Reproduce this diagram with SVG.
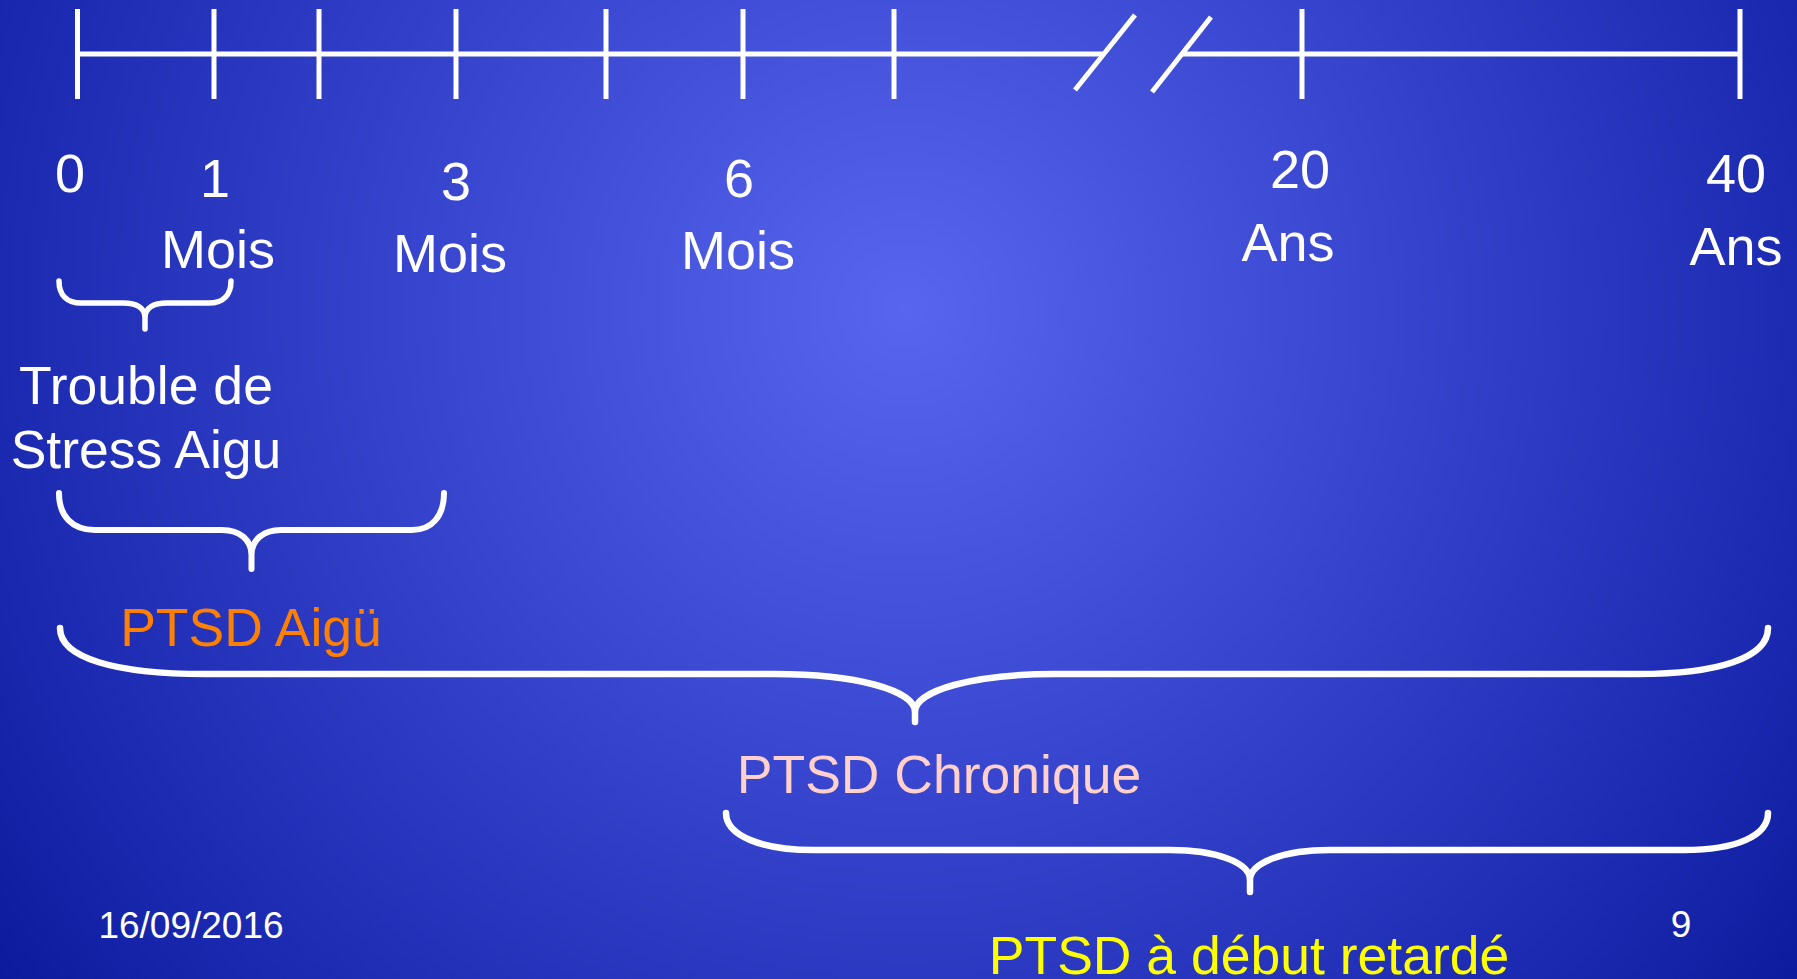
<svg xmlns="http://www.w3.org/2000/svg" width="1797" height="979" viewBox="0 0 1797 979">
  <defs>
    <radialGradient id="bg" gradientUnits="userSpaceOnUse" cx="905" cy="310" r="1125">
      <stop offset="0" stop-color="#5865ef"/>
      <stop offset="0.8" stop-color="#1c2ab2"/>
      <stop offset="1" stop-color="#0c1b9c"/>
    </radialGradient>
    <style>
      .ln { stroke: #ffffff; stroke-width: 5; fill: none; }
      .br { stroke: #ffffff; stroke-width: 6.5; fill: none; stroke-linejoin: round; stroke-linecap: round; }
      .t { font-family: "Liberation Sans", Arial, sans-serif; text-anchor: middle; fill: #ffffff; }
      .big { font-size: 54px; }
      .lbl { font-size: 53.5px; }
      .small { font-size: 37px; }
    </style>
  </defs>

  <!-- slide background -->
  <rect width="1797" height="979" fill="url(#bg)"/>

  <!-- time axis with ticks and break marks -->
  <g id="axis">
    <line class="ln" x1="77" y1="54" x2="1104" y2="54"/>
    <line class="ln" x1="1182" y1="54" x2="1741" y2="54"/>
    <line class="ln" x1="77.5" y1="9" x2="77.5" y2="99"/>
    <line class="ln" x1="214" y1="9" x2="214" y2="99"/>
    <line class="ln" x1="319" y1="9" x2="319" y2="99"/>
    <line class="ln" x1="456" y1="9" x2="456" y2="99"/>
    <line class="ln" x1="606" y1="9" x2="606" y2="99"/>
    <line class="ln" x1="743" y1="9" x2="743" y2="99"/>
    <line class="ln" x1="894" y1="9" x2="894" y2="99"/>
    <line class="ln" x1="1302" y1="9" x2="1302" y2="99"/>
    <line class="ln" x1="1740" y1="9" x2="1740" y2="99"/>
    <line class="ln" x1="1075" y1="90" x2="1135" y2="15"/>
    <line class="ln" x1="1152" y1="92" x2="1211" y2="17"/>
  </g>

  <!-- axis labels -->
  <g id="axis-labels">
    <text class="t big" x="70" y="192">0</text>
    <text class="t big" x="215" y="197">1</text>
    <text class="t big" x="218" y="268">Mois</text>
    <text class="t big" x="456" y="200">3</text>
    <text class="t big" x="450" y="272">Mois</text>
    <text class="t big" x="739" y="197">6</text>
    <text class="t big" x="738" y="269">Mois</text>
    <text class="t big" x="1300" y="188">20</text>
    <text class="t big" x="1288" y="261">Ans</text>
    <text class="t big" x="1736" y="192">40</text>
    <text class="t big" x="1736" y="265">Ans</text>
  </g>

  <!-- braces marking each period -->
  <g id="braces">
    <path class="br" style="stroke-width:5.5" d="M59,281 C59,295 67,303 81,303 L123,303 C137,303 145,308 145,318 L145,329 L145,318 C145,308 153,303 167,303 L209,303 C223,303 231,295 231,281"/>
    <path class="br" style="stroke-width:6" d="M59,493 C59,516 72,530 95,530 L222,530 C240,530 251.5,540 251.5,555 L251.5,569 L251.5,555 C251.5,540 263,530 281,530 L412,530 C432,530 444,516 444,493"/>
    <path class="br" d="M60,628 C60,658 115,674 205,674 L775,674 C855,674 915,690 915,712 L915,722 L915,712 C915,690 975,674 1055,674 L1638,674 C1718,674 1768,658 1768,628"/>
    <path class="br" d="M726,813 C726,836 762,850 814,850 L1170,850 C1215,850 1250,862 1250,880 L1250,892 L1250,880 C1250,862 1285,850 1330,850 L1684,850 C1736,850 1768,836 1768,813"/>
  </g>

  <!-- period names -->
  <g id="node-tsa">
    <text class="t lbl" x="146" y="404">Trouble de</text>
    <text class="t lbl" x="146" y="468">Stress Aigu</text>
  </g>
  <g id="node-ptsd-aigu">
    <text class="t lbl" x="251" y="646" style="fill:#ff8000">PTSD Aigü</text>
  </g>
  <g id="node-ptsd-chronique">
    <text class="t lbl" x="939" y="793" style="fill:#ffd0cc">PTSD Chronique</text>
  </g>
  <g id="node-ptsd-retarde">
    <text class="t lbl" x="1249" y="974" style="fill:#ffff00">PTSD à début retardé</text>
  </g>

  <!-- footer -->
  <g id="footer">
    <text class="t small" x="191" y="938">16/09/2016</text>
    <text class="t small" x="1681" y="937">9</text>
  </g>
</svg>
